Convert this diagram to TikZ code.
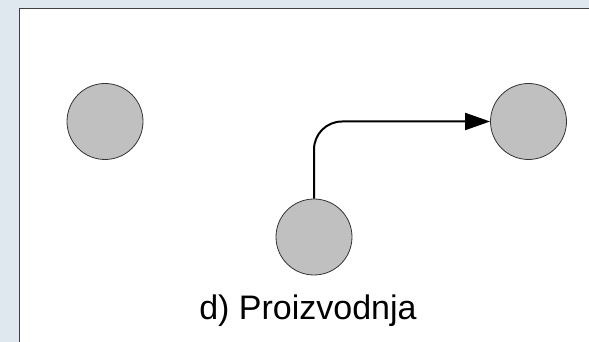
\documentclass[tikz,border=0pt]{standalone}
\usepackage{fontspec}
\setmainfont{Liberation Sans}
\usetikzlibrary{arrows.meta}
\definecolor{pozadina}{HTML}{DFE8EE}
\definecolor{sivo}{HTML}{C0C0C0}
\tikzset{
  krug/.style={circle, draw=black!80, fill=sivo, line width=0.8pt, minimum size=76pt, inner sep=0pt},
  tok/.style={line width=2pt, rounded corners=28pt, -{Triangle[length=25pt,width=17pt]}}
}
\begin{document}
\begin{tikzpicture}[x=1pt,y=1pt]
\useasboundingbox (0,0) rectangle (589,342);
\clip (0,0) rectangle (589,342);
\fill [pozadina] (0,0) rectangle (589,342);
\filldraw [fill=white, draw=black!75, line width=1.5pt] (19.5,333.5) rectangle (600,-10);
\node [krug] (lijevi) at (105,220.5) {};
\node [krug] (desni) at (528.5,220.5) {};
\node [krug] (donji) at (314,105) {};
\draw [tok] (donji) |- (desni);
\node [font=\fontsize{34}{40}\selectfont, anchor=base] (natpis) at (308,22) {d) Proizvodnja};
\end{tikzpicture}
\end{document}
